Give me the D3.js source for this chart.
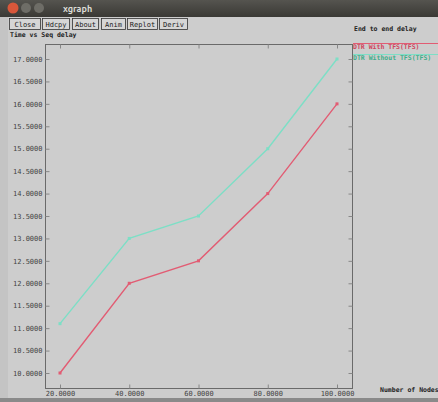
<!DOCTYPE html>
<html>
<head>
<meta charset="utf-8">
<script src="https://cdn.jsdelivr.net/npm/d3@7"></script>
<style>
  html, body { margin: 0; padding: 0; background: #cdcdcd; }
  svg { display: block; }
  text { font-family: "DejaVu Sans Mono", "Liberation Mono", monospace; }
</style>
</head>
<body>
<svg id="chart" width="438" height="402"></svg>
<script>
// Number of nodes on the x axis
const nodes = [20, 40, 60, 80, 100];
// End-to-end delay per series
const withTFS = [10.0, 12.0, 12.5, 14.0, 16.0];
const withoutTFS = [11.1, 13.0, 13.5, 15.0, 17.0];
const seriesNames = ["DTR With TFS(TFS)", "DTR Without TFS(TFS)"];
const yTicks = [10.0, 10.5, 11.0, 11.5, 12.0, 12.5, 13.0, 13.5, 14.0, 14.5, 15.0, 15.5, 16.0, 16.5, 17.0];
const xTicks = [20, 40, 60, 80, 100];
const buttons = ["Close", "Hdcpy", "About", "Anim", "Replot", "Deriv"];

const svg = d3.select("#chart");
const W = 438, H = 402;

// window chrome: title bar
const bar = svg.append("defs").append("linearGradient")
  .attr("id", "tbar").attr("x1", 0).attr("y1", 0).attr("x2", 0).attr("y2", 1);
bar.append("stop").attr("offset", 0).attr("stop-color", "#55544f");
bar.append("stop").attr("offset", 1).attr("stop-color", "#3a3935");
svg.append("rect").attr("width", W).attr("height", 17).attr("fill", "url(#tbar)");
svg.append("circle").attr("cx", 13).attr("cy", 8).attr("r", 5.5).attr("fill", "#d9573a");
svg.append("circle").attr("cx", 26).attr("cy", 8).attr("r", 5).attr("fill", "#6e6d67");
svg.append("circle").attr("cx", 39).attr("cy", 8).attr("r", 5).attr("fill", "#6e6d67");
svg.append("text").attr("x", 63).attr("y", 12).attr("fill", "#dcdcd6")
  .style("font-family", "Ubuntu, 'DejaVu Sans', sans-serif").style("font-size", "9px")
  .style("font-weight", "bold").text("xgraph");

// window body
svg.append("rect").attr("x", 0).attr("y", 17).attr("width", W).attr("height", H - 17).attr("fill", "#cdcdcd");
svg.append("rect").attr("x", 0).attr("y", 17).attr("width", 8).attr("height", H - 17).attr("fill", "#c4c4c4");
svg.append("rect").attr("x", 0).attr("y", H - 4).attr("width", W).attr("height", 4).attr("fill", "#8a8a8a");

// button row
const bx = [9, 42, 72, 101, 127, 159];
const bw = [31, 27, 26, 24, 30, 28];
buttons.forEach((b, i) => {
  svg.append("rect").attr("x", bx[i] + 0.5).attr("y", 18.5).attr("width", bw[i]).attr("height", 11)
    .attr("fill", "#d6d6d6").attr("stroke", "#333").attr("stroke-width", 0.8);
  svg.append("text").attr("x", bx[i] + bw[i] / 2 + 0.5).attr("y", 27).attr("text-anchor", "middle")
    .attr("fill", "#222").style("font-size", "7px").text(b);
});

// plot frame
const pLeft = 45, pRight = 352, pTop = 44, pBottom = 388;
const x = d3.scaleLinear().domain([20, 100]).range([60, 337]);
const y = d3.scaleLinear().domain([10, 17]).range([373, 59]);

svg.append("text").attr("x", 10).attr("y", 37).attr("fill", "#222")
  .style("font-size", "6.5px").style("font-weight", "bold").text("Time vs Seq delay");
svg.append("text").attr("x", 354).attr("y", 31).attr("fill", "#222")
  .style("font-size", "6.5px").style("font-weight", "bold").text("End to end delay");
svg.append("text").attr("x", 380).attr("y", 392).attr("fill", "#222")
  .style("font-size", "6.5px").style("font-weight", "bold").text("Number of Nodes");

svg.append("rect").attr("x", pLeft + 0.5).attr("y", pTop + 0.5)
  .attr("width", pRight - pLeft).attr("height", pBottom - pTop)
  .attr("fill", "none").attr("stroke", "#6a6a6a").attr("stroke-width", 1);

// y ticks on both sides
const yAxisL = d3.axisLeft(y).tickValues(yTicks).tickFormat(d3.format(".4f")).tickSize(-4).tickPadding(3);
const gy = svg.append("g").attr("transform", `translate(${pLeft + 0.5},0)`).call(yAxisL);
gy.select(".domain").remove();
gy.selectAll("line").attr("stroke", "#888");
gy.selectAll("text").attr("fill", "#444").style("font-size", "7px")
  .style("font-family", "'DejaVu Sans Mono', monospace");

const yAxisR = d3.axisRight(y).tickValues(yTicks).tickFormat("").tickSize(-4);
const gyr = svg.append("g").attr("transform", `translate(${pRight + 0.5},0)`).call(yAxisR);
gyr.select(".domain").remove();
gyr.selectAll("line").attr("stroke", "#888");

// x ticks bottom and top
const xAxisB = d3.axisBottom(x).tickValues(xTicks).tickFormat(d3.format(".4f")).tickSize(-4).tickPadding(3);
const gx = svg.append("g").attr("transform", `translate(0,${pBottom + 0.5})`).call(xAxisB);
gx.select(".domain").remove();
gx.selectAll("line").attr("stroke", "#888");
gx.selectAll("text").attr("fill", "#444").style("font-size", "7px")
  .style("font-family", "'DejaVu Sans Mono', monospace");

const xAxisT = d3.axisTop(x).tickValues(xTicks).tickFormat("").tickSize(-4);
const gxt = svg.append("g").attr("transform", `translate(0,${pTop + 0.5})`).call(xAxisT);
gxt.select(".domain").remove();
gxt.selectAll("line").attr("stroke", "#888");

// series
const colors = ["#e25c73", "#7ddfc6"];
const textColors = ["#d0455e", "#3fae8a"];
const series = [withTFS, withoutTFS];
const line = d3.line().x(d => x(d[0])).y(d => y(d[1]));

series.forEach((vals, i) => {
  const pts = nodes.map((n, j) => [n, vals[j]]);
  svg.append("path").datum(pts).attr("d", line)
    .attr("fill", "none").attr("stroke", colors[i]).attr("stroke-width", 1.4);
  svg.selectAll(null).data(pts).enter().append("rect")
    .attr("x", d => x(d[0]) - 1.5).attr("y", d => y(d[1]) - 1.5)
    .attr("width", 3).attr("height", 3).attr("fill", colors[i]);
});

// legend: sample line above each name
seriesNames.forEach((name, i) => {
  const ly = 44 + i * 11;
  svg.append("line").attr("x1", 353).attr("x2", W).attr("y1", ly - 0.5).attr("y2", ly - 0.5)
    .attr("stroke", colors[i]).attr("stroke-width", 1);
  svg.append("text").attr("x", 353).attr("y", ly + 5).attr("fill", textColors[i])
    .style("font-size", "6.5px").style("font-weight", "bold").text(name);
});
</script>
</body>
</html>
